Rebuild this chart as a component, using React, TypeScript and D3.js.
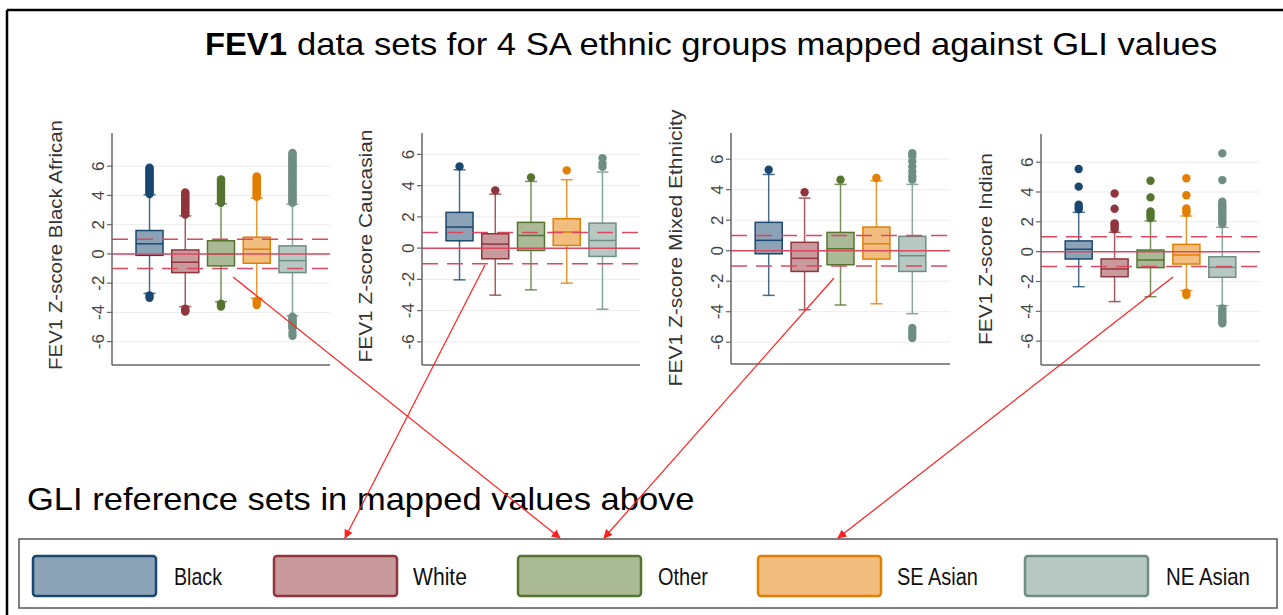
import React, { useLayoutEffect, useRef, useState } from "react";
import * as d3 from "d3";

// ---------- data ----------
const categories = ["Black", "White", "Other", "SE Asian", "NE Asian"];
const panelNames = ["Black African", "Caucasian", "Mixed Ethnicity", "Indian"];
const yTicks = [-6, -4, -2, 0, 2, 4, 6];
const refSolid = [0];
const refDashed = [-1, 1];

// y-axis ranges of each panel
const yDomains: [number, number][] = [
  [-7.6, 8.27],
  [-7.48, 7.37],
  [-7.43, 7.72],
  [-7.6, 7.89],
];

// box statistics: [panel][category]
const lowerWhisker = [
  [-2.7, -3.6, -3.27, -3.04, -4.23],
  [-2.03, -3.01, -2.67, -2.24, -3.91],
  [-2.93, -3.87, -3.56, -3.48, -4.13],
  [-2.35, -3.35, -3.02, -2.61, -3.62],
];
const q1 = [
  [-0.1, -1.28, -0.82, -0.64, -1.28],
  [0.47, -0.68, -0.15, 0.17, -0.53],
  [-0.2, -1.36, -0.92, -0.55, -1.36],
  [-0.49, -1.68, -1.07, -0.83, -1.72],
];
const median = [
  [0.69, -0.57, 0.0, 0.32, -0.46],
  [1.35, 0.26, 0.81, 1.03, 0.49],
  [0.68, -0.5, 0.13, 0.46, -0.33],
  [0.16, -1.16, -0.56, -0.22, -1.05],
];
const q3 = [
  [1.6, 0.27, 0.9, 1.14, 0.55],
  [2.29, 0.92, 1.65, 1.88, 1.6],
  [1.86, 0.55, 1.2, 1.55, 0.94],
  [0.72, -0.49, 0.11, 0.49, -0.34],
];
const upperWhisker = [
  [4.05, 2.6, 3.43, 3.82, 3.4],
  [5.02, 3.46, 4.27, 4.38, 4.87],
  [5.0, 3.45, 4.35, 4.59, 4.35],
  [2.64, 1.3, 2.06, 2.39, 1.63],
];
const outliers: number[][][] = [
  [
    [4.1, 4.2, 4.3, 4.4, 4.5, 4.6, 4.7, 4.8, 4.9, 5.0, 5.1, 5.2, 5.3, 5.4, 5.5, 5.6, 5.7, 5.8, 5.9, -2.85, -3.0],
    [2.7, 2.8, 2.9, 3.0, 3.1, 3.2, 3.3, 3.4, 3.5, 3.6, 3.7, 3.8, 3.9, 4.0, 4.1, 4.2, -3.75, -3.85, -3.95],
    [3.5, 3.6, 3.7, 3.8, 3.9, 4.0, 4.1, 4.2, 4.3, 4.4, 4.5, 4.6, 4.7, 4.8, 4.9, 5.0, 5.1, -3.4, -3.5, -3.6],
    [3.9, 4.0, 4.1, 4.2, 4.3, 4.4, 4.5, 4.6, 4.7, 4.8, 4.9, 5.0, 5.1, 5.2, 5.3, -3.2, -3.35, -3.5],
    [3.5, 3.6, 3.7, 3.8, 3.9, 4.0, 4.1, 4.2, 4.3, 4.4, 4.5, 4.6, 4.7, 4.8, 4.9, 5.0, 5.1, 5.2, 5.3, 5.4, 5.5,
      5.6, 5.7, 5.8, 5.9, 6.0, 6.1, 6.2, 6.3, 6.4, 6.5, 6.6, 6.7, 6.8, 6.9,
      -4.3, -4.4, -4.5, -4.6, -4.7, -4.8, -4.9, -5.0, -5.1, -5.4, -5.6],
  ],
  [
    [5.23],
    [3.7],
    [4.53],
    [4.98],
    [5.2, 5.4, 5.75],
  ],
  [
    [5.31],
    [3.83],
    [4.66],
    [4.77],
    [4.66, 4.88, 5.2, 5.53, 5.86, 6.19, 6.4, -5.07, -5.3, -5.5, -5.73],
  ],
  [
    [2.85, 3.0, 3.15, 4.36, 5.54],
    [1.5, 1.65, 1.8, 1.9, 2.88, 3.9],
    [2.25, 2.4, 2.55, 2.7, 3.64, 4.76],
    [2.6, 2.75, 2.9, 3.78, 4.92, -2.75, -2.9],
    [1.85, 2.0, 2.15, 2.3, 2.45, 2.6, 2.75, 2.9, 3.05, 3.2, 3.35, 4.8, 6.59,
      -3.8, -3.95, -4.1, -4.25, -4.4, -4.55, -4.7, -4.8],
  ],
];

// ---------- styles / layout ----------
const lineColors = ["#1a476f", "#90353b", "#55752f", "#e37e00", "#6e8e84"];
const fillColors = ["#8ca3b7", "#c89a9d", "#aaba97", "#f1be80", "#b7c7c2"];
const refColor = "#d9485f";
const arrowColor = "#ff2020";

const panelLayout = [
  { x0: 112, x1: 330, top: 133, bottom: 365, labelX: 62, labelY: 245, labelLen: 250 },
  { x0: 422, x1: 640, top: 133, bottom: 365, labelX: 372, labelY: 246, labelLen: 233 },
  { x0: 731, x1: 950, top: 133, bottom: 364, labelX: 682, labelY: 248, labelLen: 277 },
  { x0: 1041, x1: 1260, top: 134, bottom: 365, labelX: 992, labelY: 249, labelLen: 192 },
];

const legendSwatchX = [33, 274, 518, 758, 1025];
const legendTextX = [174, 413, 658, 897, 1166];
const legendTextLen = [48, 54, 50, 81, 84];

const arrows = [
  { x1: 233, y1: 277, x2: 560, y2: 538 },
  { x1: 485, y1: 265, x2: 345, y2: 538 },
  { x1: 834, y1: 278, x2: 604, y2: 538 },
  { x1: 1173, y1: 277, x2: 838, y2: 538 },
];

const FONT = "'Liberation Sans', Arial, Helvetica, sans-serif";

// text scaled along its own direction so it spans a target length
function FitText(props: {
  x: number;
  y: number;
  len: number;
  rotate?: number;
  anchor?: "start" | "middle";
  fontSize: number;
  fontWeight?: string;
  fill?: string;
  children: string;
}) {
  const ref = useRef<SVGTextElement>(null);
  const [s, setS] = useState(1);
  useLayoutEffect(() => {
    if (ref.current) {
      const w = ref.current.getComputedTextLength();
      if (w > 0) setS(props.len / w);
    }
  }, [props.len, props.children, props.fontSize]);
  return (
    <text
      ref={ref}
      transform={`translate(${props.x},${props.y}) rotate(${props.rotate || 0}) scale(${s},1)`}
      textAnchor={props.anchor || "start"}
      fontSize={props.fontSize}
      fontWeight={props.fontWeight || "normal"}
      fill={props.fill || "#000"}
      fontFamily={FONT}
    >
      {props.children}
    </text>
  );
}

function Panel({ p }: { p: number }) {
  const L = panelLayout[p];
  const y = d3.scaleLinear().domain(yDomains[p]).range([L.bottom, L.top]);
  const x = d3.scalePoint<string>().domain(categories).range([L.x0, L.x1]).padding(1.05);
  const boxW = 27;
  const capW = 12;
  return (
    <g>
      {yTicks.map((t) => (
        <line key={"g" + t} x1={L.x0} x2={L.x1} y1={y(t)} y2={y(t)} stroke="#ececec" strokeWidth={1} />
      ))}
      {categories.map((c, i) => {
        const cx = x(c)!;
        return (
          <g key={c}>
            <line x1={cx} x2={cx} y1={y(upperWhisker[p][i])} y2={y(q3[p][i])} stroke={lineColors[i]} strokeOpacity={0.8} strokeWidth={1.5} />
            <line x1={cx} x2={cx} y1={y(q1[p][i])} y2={y(lowerWhisker[p][i])} stroke={lineColors[i]} strokeOpacity={0.8} strokeWidth={1.5} />
            <line x1={cx - capW / 2} x2={cx + capW / 2} y1={y(upperWhisker[p][i])} y2={y(upperWhisker[p][i])} stroke={lineColors[i]} strokeOpacity={0.8} strokeWidth={1.5} />
            <line x1={cx - capW / 2} x2={cx + capW / 2} y1={y(lowerWhisker[p][i])} y2={y(lowerWhisker[p][i])} stroke={lineColors[i]} strokeOpacity={0.8} strokeWidth={1.5} />
            <rect x={cx - boxW / 2} y={y(q3[p][i])} width={boxW} height={y(q1[p][i]) - y(q3[p][i])} fill={fillColors[i]} stroke={lineColors[i]} strokeWidth={1.5} />
            <line x1={cx - boxW / 2} x2={cx + boxW / 2} y1={y(median[p][i])} y2={y(median[p][i])} stroke={lineColors[i]} strokeWidth={1.5} />
            {outliers[p][i].map((v, k) => (
              <circle key={k} cx={cx} cy={y(v)} r={4.2} fill={lineColors[i]} />
            ))}
          </g>
        );
      })}
      {refSolid.map((r) => (
        <line key={"s" + r} x1={L.x0} x2={L.x1} y1={y(r)} y2={y(r)} stroke={refColor} strokeWidth={1.5} />
      ))}
      {refDashed.map((r) => (
        <line key={"d" + r} x1={L.x0} x2={L.x1} y1={y(r)} y2={y(r)} stroke={refColor} strokeWidth={1.5} strokeDasharray="16 9" />
      ))}
      <line x1={L.x0} x2={L.x0} y1={L.top} y2={L.bottom} stroke="#666" strokeWidth={1.5} />
      <line x1={L.x0} x2={L.x1} y1={L.bottom} y2={L.bottom} stroke="#666" strokeWidth={1.5} />
      {yTicks.map((t) => (
        <g key={"t" + t}>
          <line x1={L.x0 - 5} x2={L.x0} y1={y(t)} y2={y(t)} stroke="#666" strokeWidth={1.2} />
          <text transform={`translate(${L.x0 - 8},${y(t)}) rotate(-90)`} textAnchor="middle" fontSize={17} fill="#444" fontFamily={FONT}>
            {t}
          </text>
        </g>
      ))}
      <FitText x={L.labelX} y={L.labelY} rotate={-90} anchor="middle" len={L.labelLen} fontSize={19} fill="#333">
        {"FEV1 Z-score " + panelNames[p]}
      </FitText>
    </g>
  );
}

export default function App() {
  return (
    <svg width={1283} height={615} style={{ position: "absolute", left: 0, top: 0, background: "#fff" }}>
      <defs>
        <marker id="arr" viewBox="0 0 10 10" refX="9" refY="5" markerWidth="9" markerHeight="9" orient="auto" markerUnits="userSpaceOnUse">
          <path d="M0,0 L10,5 L0,10 z" fill={arrowColor} />
        </marker>
      </defs>
      <rect x={0} y={0} width={1283} height={615} fill="#fff" />
      {/* frame */}
      <line x1={7} x2={1283} y1={10} y2={10} stroke="#000" strokeWidth={2.5} />
      <line x1={7} x2={7} y1={10} y2={615} stroke="#000" strokeWidth={2.5} />
      <FitText x={205} y={55} len={82} fontSize={32} fontWeight="bold">
        FEV1
      </FitText>
      <FitText x={297} y={55} len={921} fontSize={32}>
        data sets for 4 SA ethnic groups mapped against GLI values
      </FitText>
      {panelLayout.map((_, p) => (
        <Panel key={p} p={p} />
      ))}
      <FitText x={27} y={510} len={668} fontSize={32}>
        GLI reference sets in mapped values above
      </FitText>
      {/* legend */}
      <rect x={19} y={539} width={1258} height={69} fill="#fff" stroke="#555" strokeWidth={1.5} />
      {categories.map((c, i) => (
        <g key={c}>
          <rect x={legendSwatchX[i]} y={556} width={123} height={40} rx={3} fill={fillColors[i]} stroke={lineColors[i]} strokeWidth={2.5} />
          <FitText x={legendTextX[i]} y={585} len={legendTextLen[i]} fontSize={23} fill="#111">
            {c}
          </FitText>
        </g>
      ))}
      {arrows.map((a, k) => (
        <line key={k} x1={a.x1} y1={a.y1} x2={a.x2} y2={a.y2} stroke={arrowColor} strokeWidth={1.2} markerEnd="url(#arr)" />
      ))}
    </svg>
  );
}
